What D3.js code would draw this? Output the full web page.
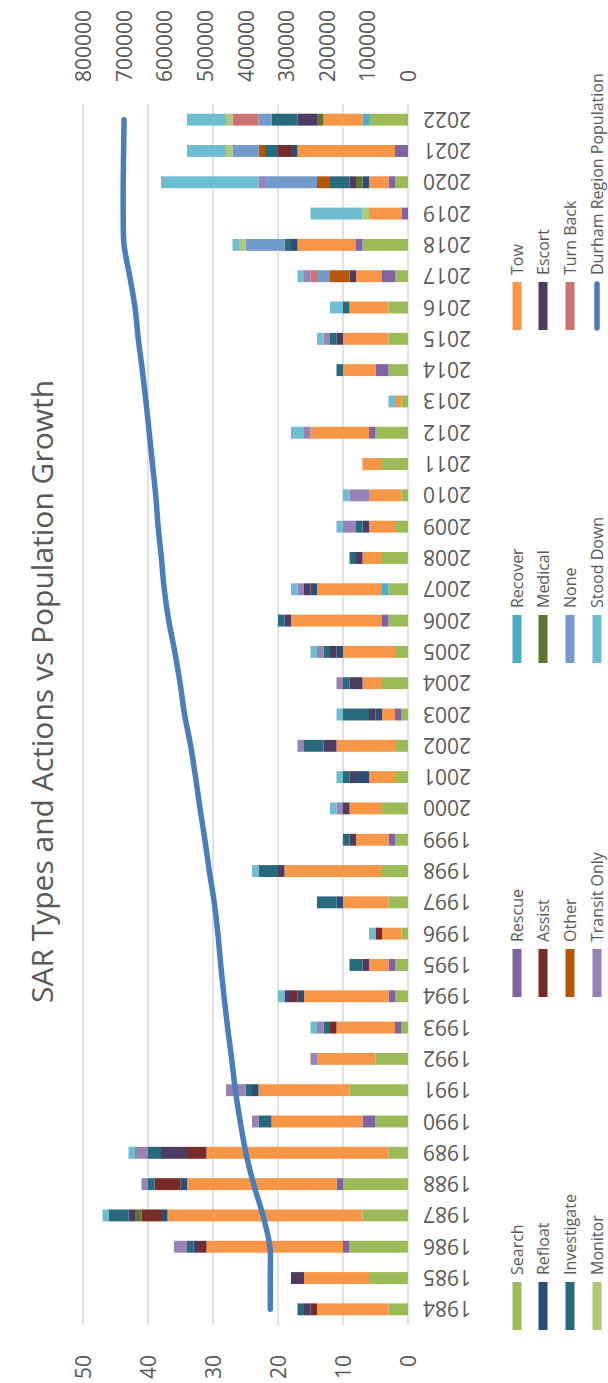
<!DOCTYPE html>
<html>
<head>
<meta charset="utf-8">
<script src="https://cdn.jsdelivr.net/npm/d3@7"></script>
<style>
  html, body { margin: 0; padding: 0; background: #ffffff; }
  svg { display: block; }
</style>
</head>
<body>
<svg id="chart" width="608" height="1383"></svg>
<script>
// Search and rescue calls per year, by type/action, with regional population
const years = ["1984","1985","1986","1987","1988","1989","1990","1991","1992","1993",
  "1994","1995","1996","1997","1998","1999","2000","2001","2002","2003",
  "2004","2005","2006","2007","2008","2009","2010","2011","2012","2013",
  "2014","2015","2016","2017","2018","2019","2020","2021","2022"];

const search      = [3,6,9,7,10,3,5,9,5,1, 2,2,1,3,4,2,4,2,2,1, 4,2,3,3,4,2,1,4,5,1, 3,3,3,2,7,0,2,0,6];
const rescue      = [0,0,1,0,1,0,2,0,0,1, 1,1,0,0,0,1,0,0,0,1, 0,0,1,0,0,0,0,0,1,0, 2,0,0,2,1,1,1,2,0];
const recover     = [0,0,0,0,0,0,0,0,0,0, 0,0,0,0,0,0,0,0,0,0, 0,0,0,1,0,0,0,0,0,0, 0,0,0,0,0,0,0,0,1];
const tow         = [11,10,21,30,23,28,14,14,9,9, 13,3,3,7,15,5,5,4,9,2, 3,8,14,10,3,4,5,3,9,1, 5,7,6,4,9,5,3,15,6];
const refloat     = [0,0,0,1,1,0,0,1,0,0, 1,0,0,1,0,0,0,2,0,1, 0,1,0,1,0,0,0,0,0,0, 0,0,0,0,1,0,1,1,0];
const assist      = [1,0,1,3,4,3,0,0,0,1, 1,0,1,0,0,0,0,0,0,0, 0,0,0,0,0,0,0,0,0,0, 0,0,0,0,0,0,0,2,0];
const medical     = [0,0,0,1,0,0,0,0,0,0, 0,0,0,0,0,0,0,0,0,0, 0,0,0,0,0,0,0,0,0,0, 0,0,0,0,0,0,1,0,1];
const escort      = [1,2,1,1,0,4,0,0,0,0, 1,1,0,0,1,1,1,1,2,1, 2,1,1,1,1,1,0,0,0,0, 0,1,0,1,0,0,1,0,3];
const investigate = [1,0,1,3,1,2,2,1,0,1, 0,2,0,3,3,1,0,1,3,4, 1,1,1,0,1,1,0,0,0,0, 1,1,1,0,1,0,3,2,4];
const other       = [0,0,0,0,0,0,0,0,0,0, 0,0,0,0,0,0,0,0,0,0, 0,0,0,0,0,0,0,0,0,0, 0,0,0,3,0,0,2,1,0];
const none        = [0,0,0,0,0,0,0,0,0,0, 0,0,0,0,0,0,0,0,0,0, 0,0,0,0,0,0,0,0,0,0, 0,0,0,2,6,0,8,4,2];
const turnBack    = [0,0,0,0,0,0,0,0,0,0, 0,0,0,0,0,0,0,0,0,0, 0,0,0,0,0,0,0,0,0,0, 0,0,0,1,0,0,0,0,4];
const monitor     = [0,0,0,0,0,0,0,0,0,0, 0,0,0,0,0,0,0,0,0,0, 0,0,0,0,0,0,0,0,0,0, 0,0,0,0,1,1,0,1,1];
const transitOnly = [0,0,2,0,1,2,1,3,1,1, 0,0,0,0,0,0,1,0,1,0, 1,1,0,1,0,2,3,0,1,0, 0,1,0,1,0,0,1,0,0];
const stoodDown   = [0,0,0,1,0,1,0,0,0,1, 1,0,1,0,1,0,1,1,0,1, 0,1,0,1,0,1,1,0,2,1, 0,1,2,1,1,8,15,6,6];

const population = [339000,339000,340000,357000,380000,399000,413000,425000,434000,444000,
  453000,461000,468000,477000,489000,500000,512000,523000,535000,550000,
  561000,574000,589000,600000,607000,615000,621000,629000,637000,645000,
  654000,664000,672000,685000,699000,701000,701000,700000,699000];

const seriesNames = ["Search","Rescue","Recover","Tow","Refloat","Assist","Medical","Escort",
  "Investigate","Other","None","Turn Back","Monitor","Transit Only","Stood Down"];
const seriesValues = [search,rescue,recover,tow,refloat,assist,medical,escort,
  investigate,other,none,turnBack,monitor,transitOnly,stoodDown];
const seriesColors = ["#9BBB59","#8064A2","#4BACC6","#F79646","#2C4D75","#772C2A","#5F7530","#4D3B62",
  "#276A7C","#B65708","#729ACA","#CD7371","#AFC97A","#9983B5","#6FBDD1"];
const lineName = "Durham Region Population";
const lineColor = "#4A7EBB";

const countTicks = [0,10,20,30,40,50];
const popTicks = [0,100000,200000,300000,400000,500000,600000,700000,800000];

const title = "SAR Types and Actions vs Population Growth";

// The chart is laid out landscape (W x H) and then turned a quarter turn
const W = 1383, H = 608;
const textColor = "#595959";
const fontFamily = "'Open Sans', 'Liberation Sans', sans-serif";

const svg = d3.select("#chart");
svg.append("rect").attr("width", 608).attr("height", 1383).attr("fill", "#fff");
const g = svg.append("g").attr("transform", `translate(0,${W}) rotate(-90)`);

const plot = { left: 58, right: 1279, top: 83, bottom: 408 };

const x = d3.scaleBand().domain(years)
  .range([plot.left, plot.right]).paddingInner(0.62).paddingOuter(0.31);
const y = d3.scaleLinear().domain([0, 50]).range([plot.bottom, plot.top]);
const yPop = d3.scaleLinear().domain([0, 800000]).range([plot.bottom, plot.top]);

// gridlines
g.append("g").selectAll("line").data(countTicks).join("line")
  .attr("x1", plot.left).attr("x2", plot.right)
  .attr("y1", d => y(d)).attr("y2", d => y(d))
  .attr("stroke", "#d9d9d9").attr("stroke-width", 1.5);

// left value axis labels
g.append("g").selectAll("text").data(countTicks).join("text")
  .attr("x", 28).attr("y", d => y(d))
  .attr("text-anchor", "end").attr("dominant-baseline", "central")
  .attr("font-family", fontFamily).attr("font-size", 21).attr("fill", textColor)
  .text(d => d);

// right population axis labels
g.append("g").selectAll("text").data(popTicks).join("text")
  .attr("x", 1301).attr("y", d => yPop(d))
  .attr("text-anchor", "start").attr("dominant-baseline", "central")
  .attr("font-family", fontFamily).attr("font-size", 21).attr("fill", textColor)
  .text(d => d);

// stacked bars
const rows = years.map((yr, i) => {
  const r = { year: yr };
  seriesNames.forEach((n, k) => { r[n] = seriesValues[k][i]; });
  return r;
});
const stacked = d3.stack().keys(seriesNames)(rows);

g.append("g").selectAll("g").data(stacked).join("g")
  .attr("fill", (d, i) => seriesColors[i])
  .selectAll("rect").data(d => d.filter(p => p[1] > p[0])).join("rect")
  .attr("x", d => x(d.data.year))
  .attr("width", x.bandwidth())
  .attr("y", d => y(d[1]))
  .attr("height", d => y(d[0]) - y(d[1]));

// year labels
g.append("g").selectAll("text").data(years).join("text")
  .attr("x", d => x(d) + x.bandwidth() / 2).attr("y", 423)
  .attr("transform", d => `rotate(-90,${x(d) + x.bandwidth() / 2},423)`)
  .attr("text-anchor", "end").attr("dominant-baseline", "central")
  .attr("font-family", fontFamily).attr("font-size", 21).attr("fill", textColor)
  .text(d => d);

// population line
const line = d3.line()
  .x((d, i) => x(years[i]) + x.bandwidth() / 2)
  .y(d => yPop(d))
  .curve(d3.curveCatmullRom.alpha(0.5));
g.append("path").datum(population)
  .attr("d", line)
  .attr("fill", "none").attr("stroke", lineColor)
  .attr("stroke-width", 5.5).attr("stroke-linecap", "round").attr("stroke-linejoin", "round");

// title
g.append("text")
  .attr("x", W / 2).attr("y", 41)
  .attr("text-anchor", "middle").attr("dominant-baseline", "central")
  .attr("font-family", fontFamily).attr("font-size", 30).attr("fill", textColor)
  .text(title);

// legend: 4 columns x 4 rows, row-major
const legendItems = seriesNames.map((n, i) => ({ name: n, color: seriesColors[i], type: "bar" }))
  .concat([{ name: lineName, color: lineColor, type: "line" }]);
const colX = [53, 386, 720, 1053];
const rowY = [517, 543, 570, 597];
const leg = g.append("g").selectAll("g").data(legendItems).join("g")
  .attr("transform", (d, i) => `translate(${colX[i % 4]},${rowY[Math.floor(i / 4)]})`);
leg.filter(d => d.type === "bar").append("rect")
  .attr("x", 0).attr("y", -4.5).attr("width", 48).attr("height", 9)
  .attr("fill", d => d.color);
leg.filter(d => d.type === "line").append("line")
  .attr("x1", 2).attr("x2", 46).attr("y1", 0).attr("y2", 0)
  .attr("stroke", d => d.color).attr("stroke-width", 5.5).attr("stroke-linecap", "round");
leg.append("text")
  .attr("x", 55).attr("y", 0)
  .attr("dominant-baseline", "central")
  .attr("font-family", fontFamily).attr("font-size", 16).attr("fill", textColor)
  .text(d => d.name);
</script>
</body>
</html>
